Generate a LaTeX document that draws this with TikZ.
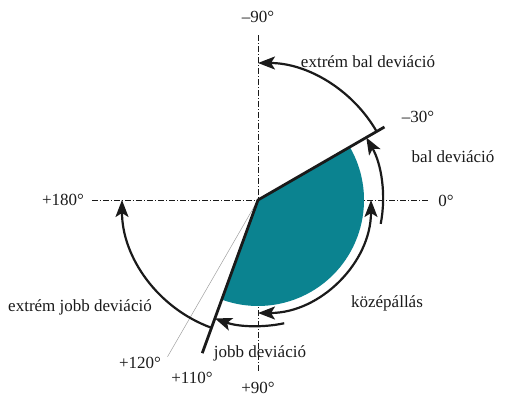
\documentclass[tikz,border=0pt]{standalone}
\usepackage{fontspec}
\setmainfont{Liberation Serif}
\usetikzlibrary{arrows.meta,positioning,calc}
\definecolor{devInk}{HTML}{1A1A1A}
\definecolor{devTeal}{HTML}{0B8390}
\definecolor{devGrey}{HTML}{A0A0A0}
\tikzset{
  dev/label/.style={font=\fontsize{17}{20}\selectfont, text=devInk,
    inner sep=1pt},
  dev/axis/.style={draw=devInk, line width=0.6pt,
    dash pattern=on 6pt off 2pt on 1pt off 2pt},
  dev/limit/.style={draw=devInk, line width=2.8pt},
  dev/guide/.style={draw=devGrey, line width=0.5pt},
  dev/swing/.style={draw=devInk, line width=2.2pt,
    -{Stealth[length=17pt,width=13pt,inset=4pt]}},
  dev/range/.style={draw=devInk, line width=2.2pt,
    {Stealth[length=17pt,width=13pt,inset=4pt]}-{Stealth[length=17pt,width=13pt,inset=4pt]}},
}

\begin{document}
\begin{tikzpicture}[x=1pt, y=1pt]
\useasboundingbox (-258,-205) rectangle (252,200);
\coordinate (O) at (0,0);
% axes
\coordinate (ytop) at (0,165);
\coordinate (ybot) at (0,-172);
\coordinate (xleft) at (-166,0);
\coordinate (xright) at (170,0);
\draw[dev/axis] (ytop) -- (ybot);
\draw[dev/axis] (xleft) -- (xright);
% neutral sector
\fill[devTeal] (O) -- ++(30:106pt) arc[start angle=30, end angle=-110, radius=106pt] -- cycle;
% limits
\coordinate (l30) at (30:146pt);
\coordinate (l110) at (-110:163pt);
\coordinate (l120) at (-120:181pt);
\draw[dev/guide] (O) -- (l120);
\draw[dev/limit] (l30) -- (O) -- (l110);
% swings
\draw[dev/swing] (30:137pt) arc[start angle=30, end angle=90, radius=137pt];
\draw[dev/swing] (-11:125pt) arc[start angle=-11, end angle=30, radius=125pt];
\draw[dev/range] (-90:113pt) arc[start angle=-90, end angle=0, radius=113pt];
\draw[dev/swing] (-78:126pt) arc[start angle=-78, end angle=-110, radius=126pt];
\draw[dev/swing] (-110:136pt) arc[start angle=-110, end angle=-180, radius=136pt];
% labels
\node[dev/label] (n90) at (0,183) {–90°};
\node[dev/label] (ebal) at (110,138) {extrém bal deviáció};
\node[dev/label] (m30) at (160,83) {–30°};
\node[dev/label] (bal) at (195,43) {bal deviáció};
\node[dev/label] (zero) at (188,-1) {0°};
\node[dev/label] (p180) at (-195,0) {+180°};
\node[dev/label] (ejobb) at (-178,-107) {extrém jobb deviáció};
\node[dev/label] (kozep) at (129,-103) {középállás};
\node[dev/label] (jobb) at (2,-153) {jobb deviáció};
\node[dev/label] (p120) at (-118,-163) {+120°};
\node[dev/label] (p110) at (-66,-178) {+110°};
\node[dev/label] (p90) at (0,-188) {+90°};
\end{tikzpicture}
\end{document}
